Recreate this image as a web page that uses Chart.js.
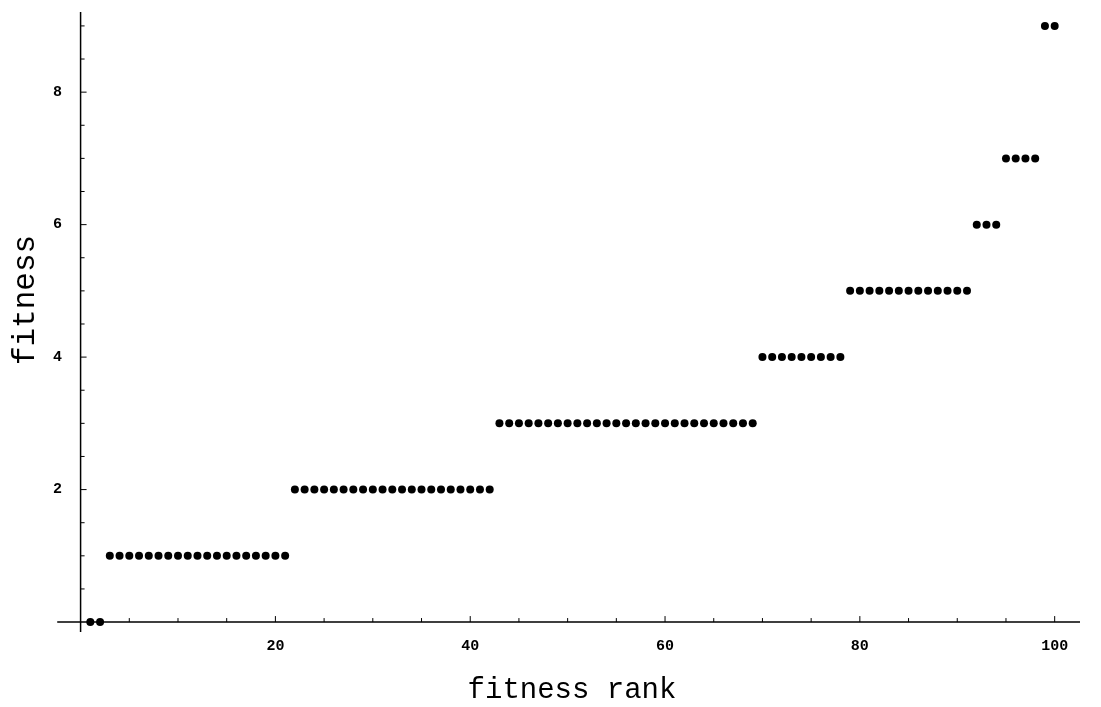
<!DOCTYPE html>
<html>
<head>
<meta charset="utf-8">
<script src="https://cdn.jsdelivr.net/npm/chart.js@4/dist/chart.umd.min.js"></script>
<style>
  html, body { margin: 0; padding: 0; background: #fff; }
  #wrap { width: 1101px; height: 707px; }
</style>
</head>
<body>
<div id="wrap"><canvas id="chart" width="1101" height="707"></canvas></div>
<script>
// Data
const ranks = [
    1, 2, 3, 4, 5, 6, 7, 8, 9, 10,
    11, 12, 13, 14, 15, 16, 17, 18, 19, 20,
    21, 22, 23, 24, 25, 26, 27, 28, 29, 30,
    31, 32, 33, 34, 35, 36, 37, 38, 39, 40,
    41, 42, 43, 44, 45, 46, 47, 48, 49, 50,
    51, 52, 53, 54, 55, 56, 57, 58, 59, 60,
    61, 62, 63, 64, 65, 66, 67, 68, 69, 70,
    71, 72, 73, 74, 75, 76, 77, 78, 79, 80,
    81, 82, 83, 84, 85, 86, 87, 88, 89, 90,
    91, 92, 93, 94, 95, 96, 97, 98, 99, 100
];
const fitness = [
    0, 0, 1, 1, 1, 1, 1, 1, 1, 1,
    1, 1, 1, 1, 1, 1, 1, 1, 1, 1,
    1, 2, 2, 2, 2, 2, 2, 2, 2, 2,
    2, 2, 2, 2, 2, 2, 2, 2, 2, 2,
    2, 2, 3, 3, 3, 3, 3, 3, 3, 3,
    3, 3, 3, 3, 3, 3, 3, 3, 3, 3,
    3, 3, 3, 3, 3, 3, 3, 3, 3, 4,
    4, 4, 4, 4, 4, 4, 4, 4, 5, 5,
    5, 5, 5, 5, 5, 5, 5, 5, 5, 5,
    5, 6, 6, 6, 7, 7, 7, 7, 9, 9
];
const xTickLabels = [20, 40, 60, 80, 100];
const yTickLabels = [2, 4, 6, 8];
const xTitle = 'fitness rank';
const yTitle = 'fitness';

const points = ranks.map((r, i) => ({ x: r, y: fitness[i] }));

const tickFont = { family: 'Liberation Mono', size: 15, weight: 'bold' };

// Mathematica style axes crossing at the origin, ticks pointing inward
const crossAxes = {
    id: 'crossAxes',
    beforeDatasetsDraw(chart) {
        const ctx = chart.ctx;
        const xs = chart.scales.x, ys = chart.scales.y;
        const area = chart.chartArea;
        const x0 = xs.getPixelForValue(0);
        const y0 = ys.getPixelForValue(0);
        ctx.save();
        ctx.strokeStyle = '#000';
        ctx.lineWidth = 1.5;
        ctx.beginPath();
        ctx.moveTo(xs.getPixelForValue(-2.4), y0);
        ctx.lineTo(area.right, y0);
        ctx.moveTo(x0, area.top);
        ctx.lineTo(x0, area.bottom);
        ctx.stroke();

        ctx.lineWidth = 1;
        ctx.beginPath();
        for (let v = 5; v <= 100; v += 5) {
            const px = xs.getPixelForValue(v);
            const len = v % 20 === 0 ? 6 : 4;
            ctx.moveTo(px, y0);
            ctx.lineTo(px, y0 - len);
        }
        for (let v = 0.5; v <= 9; v += 0.5) {
            const py = ys.getPixelForValue(v);
            const len = v % 2 === 0 ? 6 : 4;
            ctx.moveTo(x0, py);
            ctx.lineTo(x0 + len, py);
        }
        ctx.stroke();
        ctx.restore();
    },
    afterDraw(chart) {
        const ctx = chart.ctx;
        ctx.save();
        ctx.fillStyle = '#000';
        ctx.textAlign = 'center';
        ctx.textBaseline = 'middle';
        ctx.font = '29px "Liberation Mono"';
        ctx.fillText(xTitle, 572, 690);
        ctx.translate(26, 300);
        ctx.rotate(-Math.PI / 2);
        ctx.font = '31px "Liberation Mono"';
        ctx.fillText(yTitle, 0, 0);
        ctx.restore();
    }
};

new Chart(document.getElementById('chart'), {
    type: 'scatter',
    data: {
        datasets: [{
            data: points,
            backgroundColor: '#000',
            borderColor: '#000',
            borderWidth: 0,
            pointRadius: 4,
            pointHoverRadius: 4
        }]
    },
    options: {
        responsive: false,
        animation: false,
        layout: { padding: { top: 7, right: 21, left: 0, bottom: 0 } },
        plugins: {
            legend: { display: false },
            tooltip: { enabled: false }
        },
        scales: {
            x: {
                type: 'linear',
                min: -1.6,
                max: 102.6,
                grid: { display: false, drawTicks: false },
                border: { display: false },
                afterBuildTicks: s => { s.ticks = xTickLabels.map(v => ({ value: v })); },
                afterFit: s => { s.height = 75; },
                ticks: { color: '#000', font: tickFont, padding: 5, maxRotation: 0 }
            },
            y: {
                type: 'linear',
                min: -0.15,
                max: 9.21,
                grid: { display: false, drawTicks: false },
                border: { display: false },
                afterBuildTicks: s => { s.ticks = yTickLabels.map(v => ({ value: v })); },
                afterFit: s => { s.width = 65; },
                ticks: { color: '#000', font: tickFont, padding: 3 }
            }
        }
    },
    plugins: [crossAxes]
});
</script>
</body>
</html>
